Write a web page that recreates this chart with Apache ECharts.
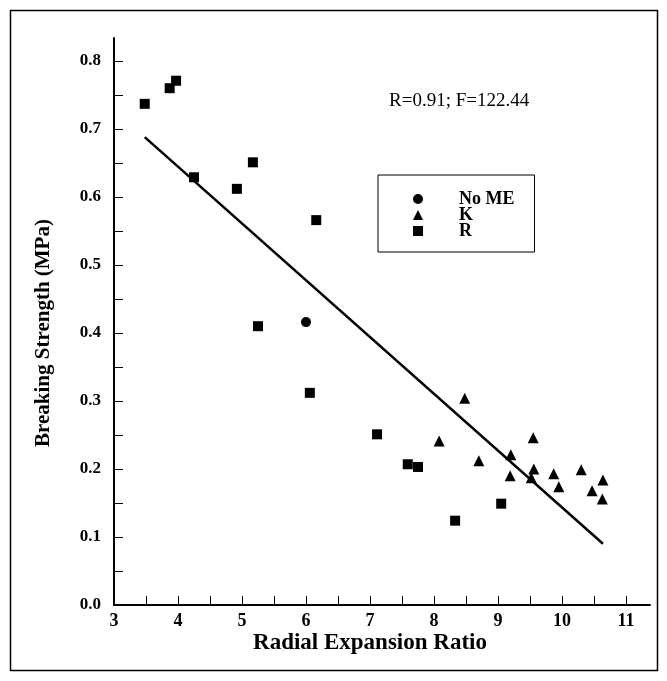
<!DOCTYPE html>
<html>
<head>
<meta charset="utf-8">
<script src="https://cdn.jsdelivr.net/npm/echarts@6/dist/echarts.min.js"></script>
<style>
  html, body { margin: 0; padding: 0; background: #fff; }
  #chart { width: 667px; height: 681px; }
</style>
</head>
<body>
<div id="chart"></div>
<script>
// Breaking strength vs radial expansion ratio, three treatments plus fitted line
const noMeX = [6.0];
const noMeY = [0.416];

const kX = [8.48, 8.08, 8.70, 9.20, 9.55, 9.19, 9.56, 9.52, 9.87, 9.95, 10.30, 10.47, 10.64, 10.63];
const kY = [0.304, 0.241, 0.212, 0.221, 0.246, 0.190, 0.200, 0.187, 0.193, 0.174, 0.199, 0.168, 0.184, 0.156];

const rX = [3.48, 3.87, 3.97, 4.25, 4.92, 5.17, 6.16, 5.25, 6.06, 7.11, 7.59, 7.75, 8.33, 9.05];
const rY = [0.737, 0.760, 0.771, 0.629, 0.612, 0.651, 0.566, 0.410, 0.312, 0.251, 0.207, 0.203, 0.124, 0.149];

// regression line end points
const fitX = [3.48, 10.64];
const fitY = [0.688, 0.090];

const seriesNames = ['No ME', 'K', 'R'];
const statsText = 'R=0.91; F=122.44';
const xTitle = 'Radial Expansion Ratio';
const yTitle = 'Breaking Strength (MPa)';

const pairs = (xs, ys) => xs.map((x, i) => [x, ys[i]]);
const serif = '"Liberation Serif", "DejaVu Serif", serif';
const solidBlack = { color: '#000', opacity: 1 };

const chart = echarts.init(document.getElementById('chart'), null, { renderer: 'canvas' });

chart.setOption({
  animation: false,
  backgroundColor: '#fff',
  title: {
    text: statsText,
    left: 384,
    top: 87,
    textStyle: { fontFamily: serif, fontSize: 19, fontWeight: 'normal', color: '#000' }
  },
  legend: {
    data: seriesNames,
    orient: 'vertical',
    left: 378,
    top: 175,
    padding: [15, 20, 12, 35],
    itemGap: -2,
    itemWidth: 10,
    itemHeight: 10,
    borderColor: '#000',
    borderWidth: 1,
    textStyle: {
      fontFamily: serif, fontSize: 18, fontWeight: 'bold', color: '#000',
      lineHeight: 16, padding: [0, 0, 0, 31]
    }
  },
  grid: [
    { left: 114, top: 61, width: 512, bottom: 76 },
    { left: 114, top: 38, right: 17, bottom: 76 }
  ],
  xAxis: [
    {
      gridIndex: 0,
      type: 'value',
      min: 3,
      max: 11,
      interval: 1,
      axisLine: { show: false },
      axisTick: { show: true, inside: true, length: 9, lineStyle: { color: '#000', width: 1 } },
      minorTick: { show: true, splitNumber: 2, length: 9, lineStyle: { color: '#000', width: 1 } },
      splitLine: { show: false },
      axisLabel: { margin: 7, fontFamily: serif, fontSize: 18, fontWeight: 'bold', color: '#000' },
      name: xTitle,
      nameLocation: 'middle',
      nameGap: 27,
      nameMoveOverlap: false,
      nameTextStyle: { fontFamily: serif, fontSize: 23, fontWeight: 'bold', color: '#000' }
    },
    {
      gridIndex: 1,
      type: 'value',
      min: 0,
      max: 1,
      axisLine: { show: true, onZero: false, lineStyle: { color: '#000', width: 2 } },
      axisTick: { show: false },
      axisLabel: { show: false },
      splitLine: { show: false }
    }
  ],
  yAxis: [
    {
      gridIndex: 0,
      type: 'value',
      min: 0,
      max: 0.8,
      interval: 0.1,
      axisLine: { show: false },
      axisTick: { show: true, inside: true, length: 9, lineStyle: { color: '#000', width: 1 } },
      minorTick: { show: true, splitNumber: 2, length: 9, lineStyle: { color: '#000', width: 1 } },
      splitLine: { show: false },
      axisLabel: {
        margin: 13,
        fontFamily: serif, fontSize: 17, fontWeight: 'bold', color: '#000',
        formatter: v => v.toFixed(1)
      },
      name: yTitle,
      nameLocation: 'middle',
      nameGap: 60,
      nameTextStyle: { fontFamily: serif, fontSize: 21, fontWeight: 'bold', color: '#000' }
    },
    {
      gridIndex: 1,
      type: 'value',
      min: 0,
      max: 1,
      axisLine: { show: true, onZero: false, lineStyle: { color: '#000', width: 2 } },
      axisTick: { show: false },
      axisLabel: { show: false },
      splitLine: { show: false }
    }
  ],
  series: [
    {
      name: seriesNames[0],
      type: 'scatter',
      xAxisIndex: 0, yAxisIndex: 0,
      symbol: 'circle',
      symbolSize: 10,
      itemStyle: solidBlack,
      data: pairs(noMeX, noMeY)
    },
    {
      name: seriesNames[1],
      type: 'scatter',
      xAxisIndex: 0, yAxisIndex: 0,
      symbol: 'triangle',
      symbolSize: 11,
      itemStyle: solidBlack,
      data: pairs(kX, kY)
    },
    {
      name: seriesNames[2],
      type: 'scatter',
      xAxisIndex: 0, yAxisIndex: 0,
      symbol: 'rect',
      symbolSize: 10,
      itemStyle: solidBlack,
      data: pairs(rX, rY)
    },
    {
      name: 'fit',
      type: 'line',
      xAxisIndex: 0, yAxisIndex: 0,
      showSymbol: false,
      symbol: 'none',
      lineStyle: { color: '#000', width: 2.5 },
      data: pairs(fitX, fitY),
      z: 1
    }
  ],
  graphic: [
    {
      type: 'rect',
      shape: { x: 10.5, y: 10.5, width: 647, height: 660 },
      style: { fill: null, stroke: '#000', lineWidth: 1.5 },
      silent: true
    }
  ]
});
</script>
</body>
</html>
